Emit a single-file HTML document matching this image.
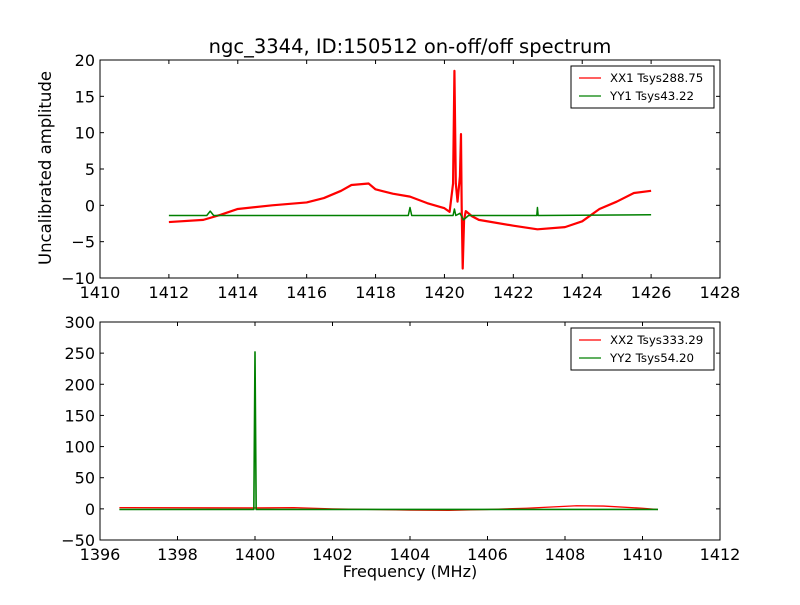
<!DOCTYPE html>
<html><head><meta charset="utf-8"><style>
body{margin:0;background:#fff;font-family:"Liberation Sans","DejaVu Sans",sans-serif}
svg text{font-family:"DejaVu Sans","Liberation Sans",sans-serif}
</style></head><body>
<svg id="c" width="800" height="600" xmlns="http://www.w3.org/2000/svg"></svg>
<script>
const topRedF=[1412,1413,1413.5,1414,1415,1416,1416.5,1417,1417.3,1417.8,1418,1418.5,1419,1419.5,1420,1420.15,1420.25,1420.29,1420.33,1420.38,1420.45,1420.48,1420.5,1420.53,1420.57,1420.62,1420.8,1421,1422,1422.7,1423.5,1424,1424.5,1425,1425.5,1426];
const topRedV=[-2.3,-2.0,-1.3,-0.5,0,0.4,1.0,2.0,2.8,3.0,2.2,1.6,1.2,0.3,-0.4,-0.9,3,18.5,3,0.5,4,9.8,0,-8.7,-2,-0.8,-1.5,-2,-2.8,-3.3,-3.0,-2.2,-0.5,0.5,1.7,2.0];
const topGreenF=[1412,1413.1,1413.2,1413.3,1418.95,1419,1419.05,1420.25,1420.29,1420.33,1420.45,1420.55,1420.7,1422.68,1422.7,1422.72,1426];
const topGreenV=[-1.4,-1.4,-0.8,-1.4,-1.4,-0.3,-1.4,-1.4,-0.5,-1.4,-1.1,-2.0,-1.4,-1.4,-0.3,-1.4,-1.3];
const botRedF=[1396.5,1400,1401,1402,1404,1405,1406,1407,1408.3,1409,1410,1410.4];
const botRedV=[2,1.5,2,0,-2,-2.5,-1,1,5,4.5,1,-1];
const botGreenF=[1396.5,1399.97,1400,1400.03,1410.4];
const botGreenV=[-1,-1,252,-1,-1];
const topXTicks=[1410,1412,1414,1416,1418,1420,1422,1424,1426,1428];
const topYTicks=[-10,-5,0,5,10,15,20];
const botXTicks=[1396,1398,1400,1402,1404,1406,1408,1410,1412];
const botYTicks=[-50,0,50,100,150,200,250,300];

const S=document.getElementById('c');const NS='http://www.w3.org/2000/svg';
function mk(t,a,txt){const e=document.createElementNS(NS,t);for(const k in a)e.setAttribute(k,a[k]);if(txt!==undefined)e.textContent=txt;S.appendChild(e);return e;}
function panel(p){
 const X=v=>p.x0+(v-p.xmin)/(p.xmax-p.xmin)*(p.x1-p.x0);
 const Y=v=>p.y1-(v-p.ymin)/(p.ymax-p.ymin)*(p.y1-p.y0);
 p.series.forEach(s=>{
  const d=s.f.map((f,i)=>(i?'L':'M')+X(f).toFixed(2)+','+Y(s.v[i]).toFixed(2)).join('');
  const e=mk('path',{d:d,fill:'none',stroke:s.c,'stroke-width':s.w||1.3,'stroke-linejoin':'round'});
  
  
 });
 const fr=mk('rect',{x:p.x0,y:p.y0,width:p.x1-p.x0,height:p.y1-p.y0,fill:'none',stroke:'#000','stroke-width':1});
 
 p.xt.forEach(t=>{const x=X(t);mk('line',{x1:x,x2:x,y1:p.y1,y2:p.y1-4,stroke:'#000'});mk('line',{x1:x,x2:x,y1:p.y0,y2:p.y0+4,stroke:'#000'});
  const e=mk('text',{x:x,y:p.y1+20,'text-anchor':'middle','font-size':16},t);});
 p.yt.forEach(t=>{const y=Y(t);mk('line',{x1:p.x0,x2:p.x0+4,y1:y,y2:y,stroke:'#000'});mk('line',{x1:p.x1,x2:p.x1-4,y1:y,y2:y,stroke:'#000'});
  const e=mk('text',{x:p.x0-5,y:y+6,'text-anchor':'end','font-size':16},t<0?'\u2212'+(-t):t);});
 const ly=p.y0+6;
 const lb=mk('rect',{x:571,y:ly,width:143,height:42,fill:'#fff',stroke:'#000'});
 
 p.series.forEach((s,i)=>{const yy=ly+12+i*18;
  mk('line',{x1:579,x2:601,y1:yy,y2:yy,stroke:s.c,'stroke-width':1.2});
  const e=mk('text',{x:610,y:yy+4,'font-size':11.8},s.label);});
}
panel({name:'top-panel',x0:100,x1:720,y0:60,y1:278,xmin:1410,xmax:1428,ymin:-10,ymax:20,xt:topXTicks,yt:topYTicks,
 series:[{f:topRedF,v:topRedV,c:'#ff0000',label:'XX1 Tsys288.75',name:'xx1-line',w:2.2},{f:topGreenF,v:topGreenV,c:'#008000',label:'YY1 Tsys43.22',name:'yy1-line',w:1.5}]});
panel({name:'bottom-panel',x0:100,x1:720,y0:322,y1:540,xmin:1396,xmax:1412,ymin:-50,ymax:300,xt:botXTicks,yt:botYTicks,
 series:[{f:botRedF,v:botRedV,c:'#ff0000',label:'XX2 Tsys333.29',name:'xx2-line'},{f:botGreenF,v:botGreenV,c:'#008000',label:'YY2 Tsys54.20',name:'yy2-line',w:1.6}]});
let t=mk('text',{x:410,y:53,'text-anchor':'middle','font-size':19.5},'ngc_3344, ID:150512 on-off/off spectrum');
t=mk('text',{x:410,y:577,'text-anchor':'middle','font-size':16},'Frequency (MHz)');
t=mk('text',{x:51,y:168,'text-anchor':'middle','font-size':16.5,transform:'rotate(-90 51 168)'},'Uncalibrated amplitude');
</script>
</body></html>
